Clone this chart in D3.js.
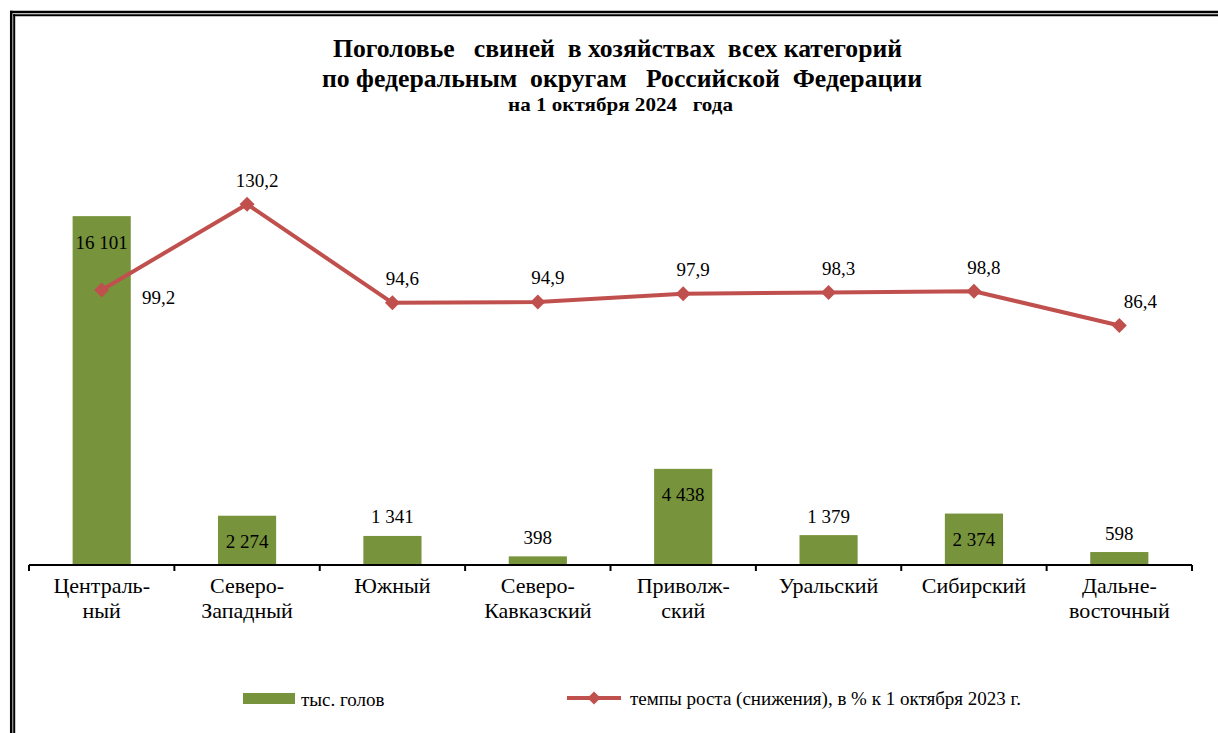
<!DOCTYPE html>
<html><head><meta charset="utf-8">
<script src="https://cdn.jsdelivr.net/npm/d3@7"></script>
</head><body style="margin:0"><svg id="c" width="1218" height="733" style="font-family:'Liberation Serif', 'Times New Roman', serif"></svg>
<script>
const categories = [["Централь-","ный"],["Северо-","Западный"],["Южный"],["Северо-","Кавказский"],["Приволж-","ский"],["Уральский"],["Сибирский"],["Дальне-","восточный"]];
const heads = [16101, 2274, 1341, 398, 4438, 1379, 2374, 598];
const headLabels = ["16 101","2 274","1 341","398","4 438","1 379","2 374","598"];
const growth = [99.2, 130.2, 94.6, 94.9, 97.9, 98.3, 98.8, 86.4];
const growthLabels = ["99,2","130,2","94,6","94,9","97,9","98,3","98,8","86,4"];
const growthLabelPlace = ["right","above","above","above","above","above","above","aboveRight"];
const titleLines = ["Поголовье\u00A0\u00A0 свиней\u00A0 в хозяйствах\u00A0 всех категорий","по федеральным\u00A0 округам\u00A0\u00A0 Российской\u00A0 Федерации","на 1 октября 2024\u00A0\u00A0 года"];
const legendNames = ["тыс. голов","темпы роста (снижения), в % к 1 октября 2023 г."];

const svg = d3.select("#c");
const serifStack = "'Liberation Serif', 'Times New Roman', serif";
const green = "#77933C", red = "#C0504D";
const txt = (sel) => sel.append("text").style("font-family", serifStack);

// title
const tX = [333, 322, 508], tW = [569, 600, 225], tY = [57, 87, 111], tS = [24.5, 24.5, 19.5];
titleLines.forEach((t,i)=>{
  txt(svg).attr("x",tX[i]).attr("y",tY[i]).attr("textLength",tW[i]).attr("lengthAdjust","spacingAndGlyphs")
    .attr("font-weight","bold").attr("font-size",tS[i]).text(t);
});

const x = d3.scaleBand().domain(d3.range(categories.length)).range([29,1192]).paddingInner(0.6).paddingOuter(0.3);
const y = d3.scaleLinear().domain([0,18000]).range([565,175]);
const y2 = d3.scaleLinear().domain([0,140]).range([565,177]);

// category labels
categories.forEach((lines,i)=>{
  const cx = x(i)+x.bandwidth()/2;
  lines.forEach((l,j)=>{
    txt(svg).attr("x",cx).attr("y",585+j*25+7.5).attr("text-anchor","middle").attr("font-size",22).text(l);
  });
});

// frame
svg.append("line").attr("x1",10).attr("x2",1218).attr("y1",12).attr("y2",12).attr("stroke","#000").attr("stroke-width",2.5);
svg.append("line").attr("x1",13).attr("x2",1218).attr("y1",15.2).attr("y2",15.2).attr("stroke","#000").attr("stroke-width",2);
svg.append("line").attr("x1",11.2).attr("x2",11.2).attr("y1",10.8).attr("y2",733).attr("stroke","#000").attr("stroke-width",2.5);
svg.append("line").attr("x1",14.2).attr("x2",14.2).attr("y1",14.2).attr("y2",733).attr("stroke","#000").attr("stroke-width",2);

// bars
svg.selectAll("rect.bar").data(heads).join("rect").attr("class","bar")
  .attr("x",(d,i)=>x(i)).attr("width",x.bandwidth())
  .attr("y",d=>y(d)).attr("height",d=>y(0)-y(d)).attr("fill",green);

// axis
const axG = svg.append("g").attr("transform","translate(0,565)");
const step = x.step();
axG.append("line").attr("x1",29).attr("x2",1192).attr("stroke","#000").attr("stroke-width",2);
const bounds = d3.range(categories.length+1).map(i=> 29 + i*step);
axG.selectAll("line.tk").data(bounds).join("line").attr("class","tk")
  .attr("x1",d=>d).attr("x2",d=>d).attr("y1",0).attr("y2",6).attr("stroke","#000").attr("stroke-width",2);

// bar labels
heads.forEach((d,i)=>{
  const cx = x(i)+x.bandwidth()/2;
  const inside = d > 2000;
  txt(svg).attr("x",cx).attr("y", (inside ? y(d)+26 : y(d)-19)+6.5)
    .attr("text-anchor","middle").attr("font-size",19).text(headLabels[i]);
});

// line
const line = d3.line().x((d,i)=>x(i)+x.bandwidth()/2).y(d=>y2(d));
svg.append("path").datum(growth).attr("d",line).attr("fill","none").attr("stroke",red).attr("stroke-width",4).attr("stroke-linejoin","round");
const diamond = (s)=>`M0,${-s}L${s},0L0,${s}L${-s},0Z`;
svg.selectAll("path.mk").data(growth).join("path").attr("class","mk")
  .attr("d",diamond(7.5)).attr("fill",red)
  .attr("transform",(d,i)=>`translate(${x(i)+x.bandwidth()/2},${y2(d)})`);
growth.forEach((d,i)=>{
  const cx = x(i)+x.bandwidth()/2, cy = y2(d);
  const p = growthLabelPlace[i];
  let lx = cx+10, ly = cy-24;
  if (p==="right"){ lx = cx+57; ly = cy+7; }
  if (p==="aboveRight"){ lx = cx+21; ly = cy-24; }
  txt(svg).attr("x",lx).attr("y",ly+6.5).attr("text-anchor","middle").attr("font-size",19).text(growthLabels[i]);
});

// legend
svg.append("rect").attr("x",243).attr("y",693).attr("width",52).attr("height",11).attr("fill",green);
txt(svg).attr("x",301).attr("y",706).attr("font-size",19).text(legendNames[0]);
svg.append("line").attr("x1",567).attr("x2",621).attr("y1",698).attr("y2",698).attr("stroke",red).attr("stroke-width",4);
svg.append("path").attr("d",diamond(6.5)).attr("fill",red).attr("transform","translate(594,698)");
txt(svg).attr("x",630).attr("y",705).attr("font-size",19).text(legendNames[1]);
</script></body></html>
